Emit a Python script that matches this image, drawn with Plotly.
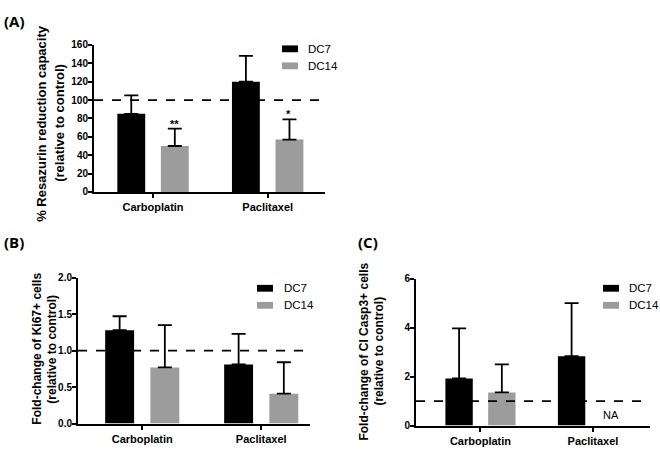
import plotly.graph_objects as go

categories = ["Carboplatin", "Paclitaxel"]
series_names = ["DC7", "DC14"]

# Panel A: % Resazurin reduction capacity
a_dc7 = [85, 120]
a_dc7_sd = [20, 28]
a_dc14 = [50, 57]
a_dc14_sd = [19, 22]
a_stars = ["**", "*"]

# Panel B: Fold-change of Ki67+ cells
b_dc7 = [1.28, 0.81]
b_dc7_sd = [0.19, 0.42]
b_dc14 = [0.77, 0.41]
b_dc14_sd = [0.58, 0.43]

# Panel C: Fold-change of Cl Casp3+ cells
c_dc7 = [1.92, 2.83]
c_dc7_sd = [2.05, 2.17]
c_dc14 = [1.35, None]
c_dc14_sd = [1.15, None]

colors = {"DC7": "#000000", "DC14": "#9c9c9c"}
FONT = "Liberation Sans"
W, H = 660, 451

fig = go.Figure()

def add_bars(vals7, sd7, vals14, sd14, xa, ya):
    for name, v, sd in [("DC7", vals7, sd7), ("DC14", vals14, sd14)]:
        fig.add_trace(go.Bar(
            x=categories, y=v, name=name, xaxis=xa, yaxis=ya,
            marker=dict(color=colors[name], line=dict(width=0)),
            error_y=dict(type="data", array=sd, arrayminus=[0]*len(sd), symmetric=False,
                         color="black", thickness=1.8, width=7),
            showlegend=False,
        ))

add_bars(a_dc7, a_dc7_sd, a_dc14, a_dc14_sd, "x", "y")
add_bars(b_dc7, b_dc7_sd, b_dc14, b_dc14_sd, "x2", "y2")
add_bars(c_dc7, c_dc7_sd, c_dc14, c_dc14_sd, "x3", "y3")

def axis_common(ticklen=4, size=10, standoff=0):
    return dict(showline=True, linecolor="black", linewidth=2, ticks="outside",
                tickwidth=2, tickcolor="black", ticklen=ticklen, showgrid=False, zeroline=False,
                ticklabelstandoff=standoff,
                tickfont=dict(family=FONT, size=size, color="black", weight="bold"))

fig.update_layout(
    width=W, height=H, margin=dict(l=0, r=0, t=0, b=0),
    paper_bgcolor="white", plot_bgcolor="white",
    barmode="group", bargap=0.24, bargroupgap=0.36,
    font=dict(family=FONT, color="black"),
    xaxis=dict(domain=[94/W, 325/W], anchor="y", range=[-0.515, 1.5], **axis_common(4, 11)),
    yaxis=dict(domain=[1-191/H, 1-40/H], anchor="x", range=[0, 160], dtick=20, **axis_common(standoff=-2)),
    xaxis2=dict(domain=[78/W, 310/W], anchor="y2", range=[-0.54, 1.41], **axis_common(4, 11)),
    yaxis2=dict(domain=[1-429/H, 1-279/H], anchor="x2", range=[0, 2], dtick=0.5, tickformat=".1f", **axis_common(standoff=-2)),
    xaxis3=dict(domain=[416/W, 650/W], anchor="y3", range=[-0.573, 1.507], **axis_common(4, 11)),
    yaxis3=dict(domain=[1-431/H, 1-280/H], anchor="x3", range=[0, 6], dtick=2, **axis_common(standoff=-2)),
)

# dashed reference lines at control level
for xref, yref, yv in [("x domain", "y", 100), ("x2 domain", "y2", 1), ("x3 domain", "y3", 1)]:
    fig.add_shape(type="line", xref=xref, yref=yref, x0=0, x1=1, y0=yv, y1=yv,
                  line=dict(color="black", width=1.8, dash="dash"))

# legends (one per panel)
legend_pos = [(282, 44, 306), (257, 290, 282), (603, 290, 627)]
for sx, sy, tx in legend_pos:
    for i, name in enumerate(series_names):
        cy = sy + i * 17.5
        fig.add_shape(type="rect", xref="paper", yref="paper",
                      x0=sx/W, x1=(sx+16)/W, y0=1-(cy+3.5)/H, y1=1-(cy-3.5)/H,
                      fillcolor=colors[name], line=dict(width=0))
        fig.add_annotation(text=name, x=tx/W, y=1-cy/H, xref="paper", yref="paper",
                           showarrow=False, xanchor="left", yanchor="middle",
                           font=dict(family=FONT, size=11.5, color="black"))

# significance stars above DC14 bars (panel A)
for cat, v, sd, s in zip(categories, a_dc14, a_dc14_sd, a_stars):
    fig.add_annotation(x=cat, y=v + sd, xref="x", yref="y", text=s, showarrow=False,
                       xshift=21, yanchor="bottom", yshift=-3,
                       font=dict(family=FONT, size=11, color="black", weight="bold"))

# NA for missing DC14 Paclitaxel in panel C
for cat, v in zip(categories, c_dc14):
    if v is None:
        fig.add_annotation(x=cat, y=0, xref="x3", yref="y3", text="NA", showarrow=False,
                           xshift=18, yanchor="bottom", yshift=3,
                           font=dict(family=FONT, size=11, color="black"))

# y-axis titles (two lines each)
ytitles = [
    ("% Resazurin reduction capacity", "(relative to control)", 42, 60, 120, 13),
    ("Fold-change of Ki67+ cells", "(relative to control)", 37, 52, 352, 12),
    ("Fold-change of Cl Casp3+ cells", "(relative to control)", 364, 379, 355, 12),
]
for t1, t2, x1, x2, yc, fs in ytitles:
    for t, x in [(t1, x1), (t2, x2)]:
        fig.add_annotation(text=t, x=x/W, y=1-yc/H, xref="paper", yref="paper", showarrow=False,
                           textangle=-90, xanchor="center", yanchor="middle",
                           font=dict(family=FONT, size=fs, color="black", weight="bold"))

# panel labels
for t, x, y in [("(A)", 2, 3), ("(B)", 2, 230), ("(C)", 356, 230)]:
    fig.add_annotation(text=t, x=x/W, y=1-y/H, xref="paper", yref="paper", showarrow=False,
                       xanchor="left", yanchor="top",
                       font=dict(family="Open Sans", size=15, color="black", weight="bold"))

fig.write_html("out.html", config={"displayModeBar": False},
               post_script="document.body.style.margin='0';document.body.style.overflow='hidden';")
